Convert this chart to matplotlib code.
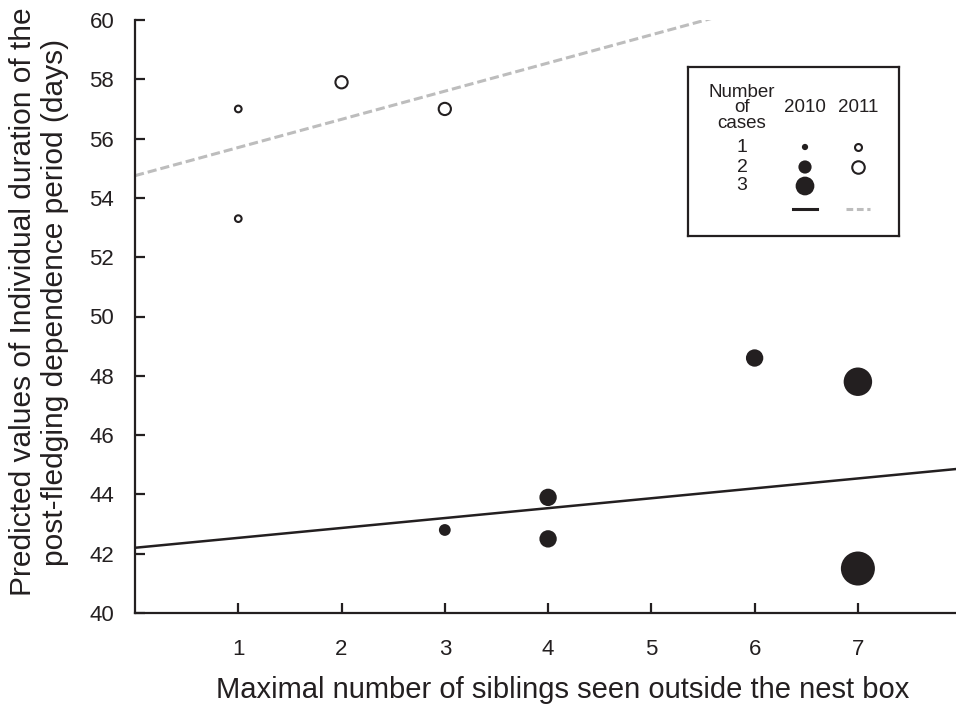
import matplotlib
matplotlib.use("Agg")
import matplotlib.pyplot as plt
import numpy as np

plt.rcParams["font.family"] = ["Liberation Sans", "DejaVu Sans"]

# data
x_2010 = [3, 4, 4, 6, 7, 7]
y_2010 = [42.8, 43.9, 42.5, 48.6, 47.8, 41.5]
n_2010 = [1, 2, 2, 2, 3, 4]

x_2011 = [1, 1, 2, 3]
y_2011 = [57.0, 53.3, 57.9, 57.0]
n_2011 = [1, 1, 2, 2]

# fitted lines (intercept, slope)
fit_2010 = (42.2, 0.334)
fit_2011 = (54.75, 0.95)

xticks = [1, 2, 3, 4, 5, 6, 7]
yticks = [40, 42, 44, 46, 48, 50, 52, 54, 56, 58, 60]

dark = "#231f20"
grey = "#bdbdbd"

# marker diameters in points, by number of cases
size_2010 = {1: 8.5, 2: 12.5, 3: 20.5, 4: 24.5}
size_2011 = {1: 4.8, 2: 8.8}

fig = plt.figure(figsize=(9.56, 7.08), dpi=100)
ax = fig.add_axes([135 / 956, 1 - 613 / 708, 821 / 956, 593 / 708])

xx = np.array([0, 7.95])
ax.plot(xx, fit_2010[0] + fit_2010[1] * xx, color=dark, lw=1.8, zorder=2)
ax.plot(xx, fit_2011[0] + fit_2011[1] * xx, color=grey, lw=2.2,
        linestyle=(0, (3, 1.3)), zorder=2)

ax.scatter(x_2010, y_2010, s=[size_2010[n] ** 2 for n in n_2010],
           color=dark, edgecolors="none", zorder=3)
ax.scatter(x_2011, y_2011, s=[size_2011[n] ** 2 for n in n_2011],
           facecolors="white", edgecolors=dark, linewidths=1.5, zorder=3)

ax.set_xlim(0, 7.95)
ax.set_ylim(40, 60)
ax.set_xticks(xticks)
ax.set_yticks(yticks)
ax.spines["top"].set_visible(False)
ax.spines["right"].set_visible(False)
for s in ["left", "bottom"]:
    ax.spines[s].set_linewidth(1.6)
    ax.spines[s].set_color(dark)
ax.spines["left"].set_bounds(40, 60)
ax.tick_params(direction="in", length=7, width=1.6, color=dark,
               labelsize=16, labelcolor=dark)
ax.tick_params(axis="y", pad=15)
ax.tick_params(axis="x", pad=19)

fig.text(563 / 956, 1 - 690 / 708,
         "Maximal number of siblings seen outside the nest box",
         fontsize=21, color=dark, ha="center", va="center")
fig.text(39 / 956, 1 - 302 / 708,
         "Predicted values of Individual duration of the\n"
         "post-fledging dependence period (days)",
         fontsize=21.5, color=dark, ha="center", va="center",
         rotation=90, linespacing=1.15)

# hand-drawn legend box, in pixel coordinates
lg = fig.add_axes([688 / 956, 1 - 236 / 708, 211 / 956, 169 / 708])
lg.set_xlim(688, 899)
lg.set_ylim(236, 67)
lg.set_xticks([])
lg.set_yticks([])
for s in lg.spines.values():
    s.set_linewidth(1.6)
    s.set_color(dark)
lg.patch.set_alpha(0)

lg.text(742, 108, "Number\nof\ncases", ha="center", va="center",
        fontsize=13.5, linespacing=0.88, color=dark)
lg.text(805, 108, "2010", ha="center", va="center", fontsize=13.5, color=dark)
lg.text(858, 108, "2011", ha="center", va="center", fontsize=13.5, color=dark)
leg_y = [147, 167, 186]
leg_2010 = [4.5, 9.5, 13.5]
leg_2011 = [5, 9]
for i, n in enumerate([1, 2, 3]):
    lg.text(742, leg_y[i], str(n), ha="center", va="center", fontsize=14,
            color=dark)
    lg.scatter([805], [leg_y[i]], s=leg_2010[i] ** 2, color=dark,
               edgecolors="none")
for i in range(2):
    lg.scatter([858], [leg_y[i]], s=leg_2011[i] ** 2, facecolors="white",
               edgecolors=dark, linewidths=1.5)
lg.plot([793, 817], [209, 209], color=dark, lw=2.2)
lg.plot([846, 870], [209, 209], color=grey, lw=2.2, linestyle=(0, (2.2, 1.2)))

fig.savefig("out.png", dpi=100)
